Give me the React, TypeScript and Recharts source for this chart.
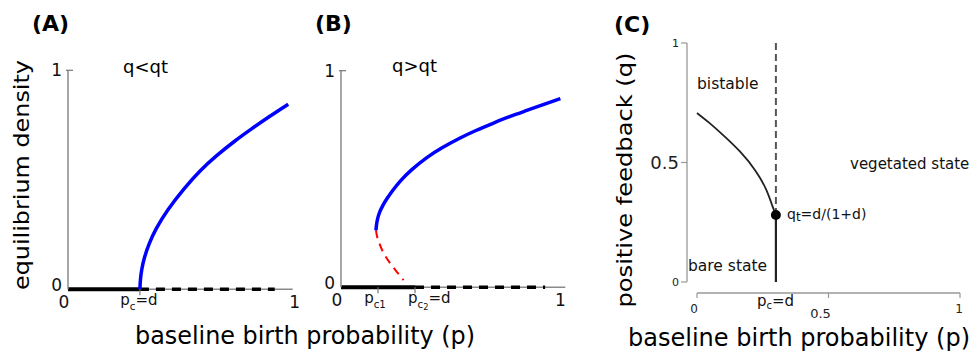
import React from 'react';
import { ComposedChart, Line, XAxis, YAxis, Scatter } from 'recharts';

// ---------- Panel A (q < qt) ----------
const pcA = 0.32;
const ticksA = [0, pcA, 1];
const tickLabelsA = [[{ t: '0' }], [{ t: 'p' }, { t: 'c', s: 1 }, { t: '=d', s: 0 }], [{ t: '1' }]];
const pA = [0.32, 0.322, 0.328, 0.34, 0.36, 0.39, 0.44, 0.52, 0.59, 0.66, 0.74, 0.82, 0.89, 0.98];
const densA = [0, 0.047, 0.093, 0.147, 0.208, 0.275, 0.36, 0.465, 0.545, 0.61, 0.676, 0.735, 0.785, 0.845];
const bareSolidA = [0, pcA];
const bareDashA = [pcA, 0.92];

// ---------- Panel B (q > qt) ----------
const pc1B = 0.165;
const pc2B = 0.33;
const ticksB = [0, pc1B, pc2B, 1];
const tickLabelsB = [
  [{ t: '0' }],
  [{ t: 'p' }, { t: 'c1', s: 1 }],
  [{ t: 'p' }, { t: 'c', s: 1 }, { t: '2', s: 2 }, { t: '=d', s: 0 }],
  [{ t: '1' }],
];
const pStableB = [0.156, 0.158, 0.163, 0.172, 0.186, 0.205, 0.23, 0.263, 0.31, 0.384, 0.45, 0.531, 0.6, 0.679, 0.75, 0.83, 0.9, 0.978];
const densStableB = [0.263, 0.29, 0.318, 0.348, 0.378, 0.41, 0.447, 0.49, 0.54, 0.602, 0.645, 0.69, 0.724, 0.758, 0.788, 0.817, 0.843, 0.871];
const pUnstableB = [0.156, 0.159, 0.167, 0.189, 0.219, 0.25, 0.279];
const densUnstableB = [0.263, 0.24, 0.212, 0.155, 0.11, 0.07, 0.033];
const bareSolidB = [0, pc2B];
const bareDashB = [pc2B, 0.91];

// ---------- Panel C (phase diagram) ----------
const pcC = 0.3;
const qtC = 0.28;
const ticksCx = [0, 0.5, 1];
const ticksCy = [0, 0.5, 1];
const pBoundary = [0, 0.049, 0.099, 0.163, 0.228, 0.266, 0.289, 0.3];
const qBoundary = [0.707, 0.665, 0.615, 0.55, 0.462, 0.385, 0.31, 0.28];

const zip = (xs: number[], ys: number[]) => xs.map((x, i) => ({ x, y: ys[i] }));
const flat = (xs: number[]) => xs.map((x) => ({ x, y: 0 }));

const FONT = 'DejaVu Sans, Verdana, sans-serif';

type Part = { t: string; s?: number };

function renderParts(parts: Part[], fs: number) {
  let level = 0;
  const out: any[] = [];
  parts.forEach((p, i) => {
    const target = p.s ?? 0;
    const shift = { 0: 0, 1: fs * 0.28, 2: fs * 0.45 } as Record<number, number>;
    const dy = shift[target] - shift[level];
    const size = target === 0 ? fs : target === 1 ? fs * 0.68 : fs * 0.55;
    out.push(
      <tspan key={i} dy={dy} fontSize={size}>
        {p.t}
      </tspan>
    );
    level = target;
  });
  return out;
}

function makeXTick(ticks: number[], labels: Part[][], panel: string) {
  return (props: any) => {
    const { x, y, payload } = props;
    const i = ticks.indexOf(payload.value);
    if (i < 0) return <g />;
    const parts = labels[i];
    const v = payload.value;
    const isEnd = v === 0 || v === 1;
    let anchor: any = 'middle';
    let dx = 0;
    if (v === 0) dx = -4;
    if (v === 1) dx = panel === 'A' ? 2 : -5;
    if (!isEnd && panel === 'B' && i === 2) {
      anchor = 'start';
      dx = -7;
    }
    if (!isEnd && panel === 'B' && i === 1) dx = -3;
    if (!isEnd && panel === 'A') dx = -1;
    return (
      <g>
        {!isEnd && <line x1={x} x2={x} y1={y} y2={y + 6} stroke="#777" strokeWidth={1.2} />}
        <text
          x={x + dx}
          y={y + (isEnd ? 19 : 16)}
          textAnchor={anchor}
          fontFamily={FONT}
          fontSize={isEnd ? 17 : 15}
          fill="#111"
        >
          {renderParts(parts, isEnd ? 17 : 15)}
        </text>
      </g>
    );
  };
}

const YTickAB = (props: any) => {
  const { x, y, payload } = props;
  const v = payload.value;
  return (
    <g>
      {v === 1 && <line x1={x - 2} x2={x + 5} y1={y} y2={y} stroke="#777" strokeWidth={1.2} />}
      <text x={x - 6} y={v === 0 ? y - 4 : y} dy="0.36em" textAnchor="end" fontFamily={FONT} fontSize={17} fill="#111">
        {v}
      </text>
    </g>
  );
};

const YTickC = (props: any) => {
  const { x, y, payload } = props;
  const v = payload.value;
  const fs = v === 0.5 ? 18 : 11;
  return (
    <text x={x} y={y} dy="0.36em" textAnchor="end" fontFamily={FONT} fontSize={fs} fill="#222">
      {v}
    </text>
  );
};

const XTickC = (props: any) => {
  const { x, y, payload } = props;
  const v = payload.value;
  const fs = v === 0.5 ? 13 : 12;
  const dx = v === 0 ? -3 : v === 0.5 ? -8 : -1;
  const dyy = v === 0.5 ? 18 : 13;
  return (
    <text x={x + dx} y={y + dyy} textAnchor="middle" fontFamily={FONT} fontSize={fs} fill="#222">
      {v}
    </text>
  );
};

const dotShape = (props: any) => <circle cx={props.cx} cy={props.cy} r={5} fill="#000" />;

export default function App() {
  const axisGrey = { stroke: '#8a8a8a', strokeWidth: 1.5 };
  const common = { dot: false, isAnimationActive: false, dataKey: 'y' } as any;
  return (
    <div style={{ position: 'absolute', left: 0, top: 0, width: 973, height: 356, background: '#fff', fontFamily: FONT }}>
      {/* Panel A */}
      <div style={{ position: 'absolute', left: 0, top: 0 }}>
        <ComposedChart width={320} height={320} margin={{ top: 70.3, right: 27.3, bottom: 6.7, left: 28 }}>
          <XAxis
            type="number"
            dataKey="x"
            domain={[0, 1]}
            ticks={ticksA}
            interval={0}
            tickLine={false}
            tickSize={0}
            tickMargin={0}
            height={24}
            axisLine={false}
            tick={makeXTick(ticksA, tickLabelsA, 'A')}
          />
          <YAxis
            type="number"
            domain={[0, 1]}
            ticks={[0, 1]}
            interval={0}
            tickLine={false}
            tickSize={0}
            tickMargin={0}
            width={40}
            axisLine={axisGrey}
            tick={YTickAB}
          />
          <Line {...common} data={flat([0, 1])} type="linear" stroke="#8a8a8a" strokeWidth={1.5} />
          <Line {...common} data={flat(bareSolidA)} type="linear" stroke="#000" strokeWidth={4} />
          <Line {...common} data={flat(bareDashA)} type="linear" stroke="#000" strokeWidth={3.5} strokeDasharray="9 7" />
          <Line {...common} data={zip(pA, densA)} type="basis" stroke="#0000ff" strokeWidth={3.5} />
        </ComposedChart>
      </div>

      {/* Panel B */}
      <div style={{ position: 'absolute', left: 300, top: 0 }}>
        <ComposedChart width={290} height={320} margin={{ top: 70.7, right: 24.7, bottom: 8.7, left: 11 }}>
          <XAxis
            type="number"
            dataKey="x"
            domain={[0, 1]}
            ticks={ticksB}
            interval={0}
            tickLine={false}
            tickSize={0}
            tickMargin={0}
            height={24}
            axisLine={false}
            tick={makeXTick(ticksB, tickLabelsB, 'B')}
          />
          <YAxis
            type="number"
            domain={[0, 1]}
            ticks={[0, 1]}
            interval={0}
            tickLine={false}
            tickSize={0}
            tickMargin={0}
            width={30}
            axisLine={axisGrey}
            tick={YTickAB}
          />
          <Line {...common} data={flat([0, 1])} type="linear" stroke="#8a8a8a" strokeWidth={1.5} />
          <Line {...common} data={flat(bareSolidB)} type="linear" stroke="#000" strokeWidth={4} />
          <Line {...common} data={flat(bareDashB)} type="linear" stroke="#000" strokeWidth={3.5} strokeDasharray="9 7" />
          <Line {...common} data={zip(pUnstableB, densUnstableB)} type="basis" stroke="#ff0000" strokeWidth={2} strokeDasharray="8 6" />
          <Line {...common} data={zip(pStableB, densStableB)} type="basis" stroke="#0000ff" strokeWidth={3.5} />
        </ComposedChart>
      </div>

      {/* Panel C */}
      <div style={{ position: 'absolute', left: 610, top: 0 }}>
        <ComposedChart width={363} height={340} margin={{ top: 43, right: 13, bottom: 17, left: 37 }}>
          <XAxis
            type="number"
            dataKey="x"
            domain={[-0.038, 1]}
            ticks={ticksCx}
            interval={0}
            tickSize={5}
            tickMargin={2}
            tickLine={{ stroke: '#999', strokeWidth: 1.2 }}
            height={30}
            axisLine={{ stroke: '#999', strokeWidth: 1.3, strokeDasharray: '0 10 263 200' }}
            tick={XTickC}
          />
          <YAxis
            type="number"
            domain={[-0.046, 1]}
            ticks={ticksCy}
            interval={0}
            tickSize={6}
            tickMargin={2}
            tickLine={{ stroke: '#999', strokeWidth: 1.2 }}
            width={40}
            axisLine={{ stroke: '#999', strokeWidth: 1.3, strokeDasharray: '239 200' }}
            tick={YTickC}
          />
          <Line {...common} data={zip([pcC, pcC], [qtC, 1])} type="linear" stroke="#555" strokeWidth={2} strokeDasharray="7 4" />
          <Line {...common} data={zip([pcC, pcC], [0, qtC])} type="linear" stroke="#222" strokeWidth={2.2} />
          <Line {...common} data={zip(pBoundary, qBoundary)} type="basis" stroke="#222" strokeWidth={1.8} />
          <Scatter data={[{ x: pcC, y: qtC }]} dataKey="y" shape={dotShape} isAnimationActive={false} />
        </ComposedChart>
      </div>

      {/* Text annotations */}
      <svg width={973} height={356} style={{ position: 'absolute', left: 0, top: 0, pointerEvents: 'none' }} fontFamily={FONT}>
        <text x={32} y={31} fontSize={22} fontWeight="bold" fill="#000">(A)</text>
        <text x={315} y={31} fontSize={22} fontWeight="bold" fill="#000">(B)</text>
        <text x={614} y={32} fontSize={22} fontWeight="bold" fill="#000">(C)</text>
        <text x={123} y={73} fontSize={18} fill="#000">q&lt;qt</text>
        <text x={392} y={72} fontSize={18} fill="#000">q&gt;qt</text>
        <text transform="translate(29,175) rotate(-90)" x={-115} y={0} fontSize={21} textLength={230} lengthAdjust="spacingAndGlyphs" fill="#000">
          equilibrium density
        </text>
        <text x={135} y={344} fontSize={24} textLength={340} lengthAdjust="spacingAndGlyphs" fill="#000">
          baseline birth probability (p)
        </text>
        <text transform="translate(632,180) rotate(-90)" x={-127.5} y={0} fontSize={22} textLength={255} lengthAdjust="spacingAndGlyphs" fill="#000">
          positive feedback (q)
        </text>
        <text x={628} y={346} fontSize={24} textLength={342} lengthAdjust="spacingAndGlyphs" fill="#000">
          baseline birth probability (p)
        </text>
        <text x={697} y={89} fontSize={15.5} fill="#111">bistable</text>
        <text x={850} y={169} fontSize={15} fill="#111">vegetated state</text>
        <text x={688} y={271} fontSize={15.5} fill="#111">bare state</text>
        <text x={787} y={219} fontSize={14} fill="#111">
          q<tspan dy={2} fontSize={12}>t</tspan>
          <tspan dy={-2}>=d/(1+d)</tspan>
        </text>
        <text x={757} y={306} fontSize={15} fill="#111">
          p<tspan dy={3} fontSize={10}>c</tspan>
          <tspan dy={-3}>=d</tspan>
        </text>
      </svg>
    </div>
  );
}
